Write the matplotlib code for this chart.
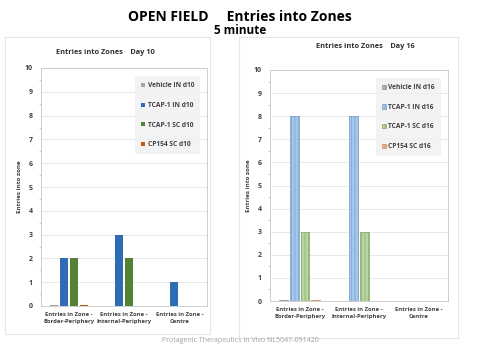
import numpy as np
import matplotlib.pyplot as plt
from matplotlib.patches import Rectangle

plt.rcParams['font.family'] = ['Open Sans', 'DejaVu Sans']
plt.rcParams['hatch.linewidth'] = 0.4

zones = ["Entries in Zone -\nBorder-Periphery", "Entries in Zone -\nInternal-Periphery",
         "Entries in Zone -\nCentre"]
groups_d10 = ["Vehicle IN d10", "TCAP-1 IN d10", "TCAP-1 SC d10", "CP154 SC d10"]
groups_d16 = ["Vehicle IN d16", "TCAP-1 IN d16", "TCAP-1 SC d16", "CP154 SC d16"]

d10 = [
    [0.03, 0, 0],   # Vehicle IN
    [2, 3, 1],      # TCAP-1 IN
    [2, 2, 0],      # TCAP-1 SC
    [0.03, 0, 0],   # CP154 SC
]
d16 = [
    [0.03, 0, 0],
    [8, 8, 0],
    [3, 3, 0],
    [0.03, 0, 0],
]

colors_d10 = ["#a5a5a5", "#2e6db4", "#548235", "#c55a11"]
colors_d16 = ["#b7b7b7", "#a4c6e8", "#b9d5a0", "#f4b183"]
edges_d16 = ["#8a8a8a", "#6e9bcc", "#7fa45f", "#c98a5a"]

W, H = 480, 350
fig = plt.figure(figsize=(4.8, 3.5), dpi=100)


def px(l, t, r, b):
    return [l / W, 1 - b / H, (r - l) / W, (b - t) / H]


# panel frames
for (l, t, r, b) in [(5, 37, 210, 334), (239, 37, 458, 338)]:
    fig.patches.append(Rectangle((l / W, 1 - b / H), (r - l) / W, (b - t) / H,
                                 transform=fig.transFigure, fill=False,
                                 edgecolor="#e6e6e6", linewidth=0.8))

fig.text(0.5, 1 - 17 / H, "OPEN FIELD     Entries into Zones", ha="center", va="center",
         fontsize=10, fontweight="bold")
fig.text(0.5, 1 - 30 / H, "5 minute", ha="center", va="center", fontsize=8.5, fontweight="bold")
fig.text(0.5, 1 - 341 / H, "Protagenic Therapeutics In Vivo NL5047-091420", ha="center",
         va="center", fontsize=5, color="#a0a0a0")


def draw(ax, data, labels, colors, edges, hatched):
    x = np.arange(len(zones))
    w = 0.145
    step = 0.18
    for i, (vals, lab) in enumerate(zip(data, labels)):
        off = (i - 1.5) * step
        if hatched:
            ax.bar(x + off, vals, w, color=colors[i], edgecolor=edges[i], hatch="|||||",
                   linewidth=0.5, label=lab, zorder=3)
        else:
            ax.bar(x + off, vals, w, color=colors[i], label=lab, zorder=3)
    ax.set_ylim(0, 10)
    ax.set_xlim(-0.5, 2.5)
    ax.set_yticks(range(0, 11))
    ax.set_yticks(np.arange(0, 10.01, 0.5), minor=True)
    ax.set_xticks(x)
    ax.set_xticklabels(zones, fontsize=4.2, fontweight="bold", color="#404040",
                       linespacing=1.6)
    ax.tick_params(axis="y", labelsize=5, length=0, pad=6, labelcolor="#404040")
    ax.tick_params(axis="y", which="minor", length=1.5, color="#bfbfbf")
    ax.tick_params(axis="x", length=0, pad=4)
    for lb in ax.get_yticklabels():
        lb.set_fontweight("bold")
    ax.grid(axis="y", color="#e4e4e4", linewidth=0.6, zorder=0)
    for s in ax.spines.values():
        s.set_color("#c8c8c8")
        s.set_linewidth(0.6)
    ax.set_ylabel("Entries into zone", fontsize=4.5, fontweight="bold", color="#404040",
                  labelpad=2)
    leg = ax.legend(loc="upper right", bbox_to_anchor=(0.96, 0.965), fontsize=4.8,
                    frameon=True, handlelength=0.6, handleheight=0.6, handletextpad=0.4,
                    labelspacing=1.9, borderpad=0.9, borderaxespad=0)
    leg.get_frame().set_facecolor("#f0f0f0")
    leg.get_frame().set_edgecolor("none")
    leg.get_frame().set_boxstyle("square", pad=0)
    for t in leg.get_texts():
        t.set_fontweight("bold")
        t.set_color("#404040")


ax1 = fig.add_axes(px(41, 68, 207, 306))
draw(ax1, d10, groups_d10, colors_d10, colors_d10, False)
fig.text(105 / W, 1 - 53 / H, "Entries into Zones    Day 10", ha="center", va="center",
         fontsize=5.3, fontweight="bold", color="#303030")

ax2 = fig.add_axes(px(270, 70, 448, 301))
draw(ax2, d16, groups_d16, colors_d16, edges_d16, True)
fig.text(365 / W, 1 - 47 / H, "Entries into Zones    Day 16", ha="center", va="center",
         fontsize=5.3, fontweight="bold", color="#303030")

fig.savefig("out.png", dpi=100)
